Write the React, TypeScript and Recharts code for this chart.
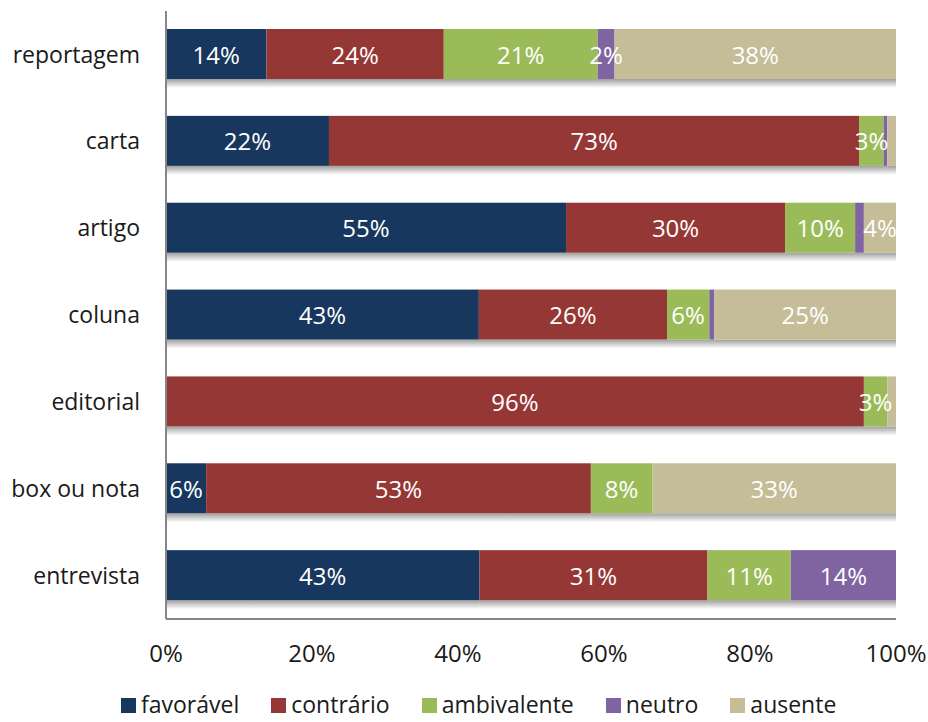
import React from "react";
import { BarChart, Bar, XAxis, YAxis, Legend, LabelList } from "recharts";

const categories = ["reportagem", "carta", "artigo", "coluna", "editorial", "box ou nota", "entrevista"];
const favoravel = [13.7, 22.3, 54.8, 42.9, 0, 5.5, 42.9];
const contrario = [24.2, 72.6, 30.0, 25.8, 95.6, 52.7, 31.2];
const ambivalente = [21.0, 3.3, 9.6, 5.8, 3.2, 8.4, 11.4];
const neutro = [2.3, 0.5, 1.2, 0.7, 0, 0, 14.4];
const ausente = [38.4, 1.2, 4.4, 24.9, 1.2, 33.4, 0];
const xTicks = [0, 0.2, 0.4, 0.6, 0.8, 1];

const seriesKeys = ["favoravel", "contrario", "ambivalente", "neutro", "ausente"];
const seriesNames = ["favorável", "contrário", "ambivalente", "neutro", "ausente"];
const seriesColors = ["#17375E", "#953735", "#9BBB59", "#8064A2", "#C4BD97"];
const seriesValues = [favoravel, contrario, ambivalente, neutro, ausente];

const data = categories.map((c, i) => {
  const row: any = { name: c };
  seriesKeys.forEach((k, j) => {
    row[k] = seriesValues[j][i];
  });
  return row;
});

const FONT = "'Open Sans', sans-serif";

const ShadowBar = (props: any) => {
  const { x, y, width, height, fill } = props;
  if (!width || width <= 0) return null;
  return (
    <g>
      <defs>
        <linearGradient id="barShadow" x1="0" y1="0" x2="0" y2="1">
          <stop offset="0%" stopColor="#000" stopOpacity={0.38} />
          <stop offset="100%" stopColor="#000" stopOpacity={0} />
        </linearGradient>
      </defs>
      <rect x={x} y={y + height} width={width} height={9} fill="url(#barShadow)" />
      <rect x={x} y={y} width={width} height={height} fill={fill} />
    </g>
  );
};

const makeLabel = () => (props: any) => {
  const { x, y, width, height, value } = props;
  if (value == null) return null;
  const r = Math.round(Number(value));
  if (r < 2) return null;
  return (
    <text
      x={x + width / 2}
      y={y + height / 2}
      textAnchor="middle"
      dominantBaseline="central"
      fill="#ffffff"
      fontSize={24}
      fontFamily={FONT}
    >
      {r}%
    </text>
  );
};

const LegendContent = () => (
  <div
    style={{
      height: 40,
      boxSizing: "border-box",
      paddingTop: 10,
      paddingLeft: 121,
      display: "flex",
      alignItems: "flex-start",
      fontFamily: FONT,
      fontSize: 23,
      color: "#1a1a1a",
      lineHeight: "24px",
    }}
  >
    {seriesNames.map((n, i) => (
      <div key={n} style={{ display: "flex", alignItems: "center", marginRight: 32, height: 24 }}>
        <div style={{ width: 15, height: 15, background: seriesColors[i], marginRight: 5, marginTop: 3 }} />
        <span>{n}</span>
      </div>
    ))}
  </div>
);

export default function App() {
  return (
    <div style={{ position: "absolute", left: 0, top: 0, width: 928, height: 722, background: "#fff", fontFamily: FONT }}>
      <BarChart
        width={928}
        height={722}
        data={data}
        layout="vertical"
        stackOffset="expand"
        margin={{ top: 11, right: 32, left: 0, bottom: 0 }}
        barSize={50}
      >
        <XAxis
          type="number"
          domain={[0, 1]}
          ticks={xTicks}
          tickFormatter={(v: number) => `${Math.round(v * 100)}%`}
          axisLine={{ stroke: "#868686", strokeWidth: 2 }}
          tickLine={false}
          tickSize={0}
          tickMargin={26}
          height={63}
          tick={{ fontSize: 24, fill: "#1a1a1a", fontFamily: FONT }}
          interval={0}
        />
        <YAxis
          type="category"
          dataKey="name"
          width={166}
          axisLine={{ stroke: "#868686", strokeWidth: 2 }}
          tickLine={false}
          tickSize={0}
          tickMargin={26}
          tick={{ fontSize: 23, fill: "#1a1a1a", fontFamily: FONT }}
          interval={0}
        />
        <Legend verticalAlign="bottom" content={<LegendContent />} />
        {seriesKeys.map((k, j) => (
          <Bar
            key={k}
            dataKey={k}
            name={seriesNames[j]}
            stackId="a"
            fill={seriesColors[j]}
            isAnimationActive={false}
            shape={<ShadowBar />}
          >
            <LabelList dataKey={k} content={makeLabel()} />
          </Bar>
        ))}
      </BarChart>
    </div>
  );
}
